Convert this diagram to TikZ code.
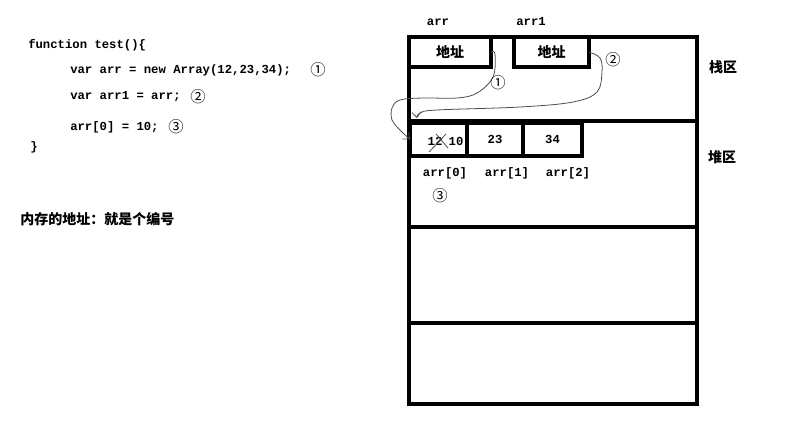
\documentclass[tikz,border=0pt]{standalone}
\usepackage{fontspec}
\setmainfont{Liberation Mono}
\newfontfamily\cjk{Noto Sans CJK SC}
\newcommand{\codefont}{\fontsize{9.2}{11}\selectfont\bfseries}
\newcommand{\hanfont}{\fontsize{10.5}{12}\selectfont\cjk\bfseries}
\usetikzlibrary{arrows.meta}
\tikzset{
  zone/.style={draw, line width=2.4pt, inner sep=0pt, outer sep=0pt,
    minimum width=216pt},
  slot/.style={draw, line width=2.4pt, inner sep=0pt, outer sep=0pt,
    minimum height=22.5pt},
  cell/.style={draw, line width=2.4pt, inner sep=0pt, outer sep=0pt,
    minimum height=24.75pt, font=\codefont},
  code/.style={anchor=west, inner sep=0pt, font=\codefont},
  han/.style={inner sep=0pt, font=\hanfont},
  circ/.style={inner sep=0pt, font=\fontsize{11.5}{12}\selectfont\cjk},
  hand/.style={draw=black!70, line width=0.6pt, -{Straight Barb[length=4pt,width=7pt]}}}

\begin{document}
\begin{tikzpicture}[x=0.75pt, y=-0.75pt]
  \useasboundingbox (0,0) rectangle (806,421);
  % the code
  \node[code] (l1) at (28,45) {function test()\{};
  \node[code] (l2) at (70,70) {var arr = new Array(12,23,34);};
  \node[circ] (n1) at (318,70) {①};
  \node[code] (l3) at (70,97) {var arr1 = arr;};
  \node[circ] (n2) at (198,97) {②};
  \node[code] (l4) at (70,127) {arr[0] = 10;};
  \node[circ] (n3) at (176,127) {③};
  \node[code] (l5) at (30,147) {\}};
  \node[han, anchor=west] (note) at (20,219) {内存的地址：就是个编号};
  % memory
  \node[zone, minimum height=63pt] (stack) at (553,79) {};
  \node[zone, minimum height=79.5pt] (heap) at (553,174) {};
  \node[zone, minimum height=72pt] (zone3) at (553,275) {};
  \node[zone, minimum height=60.75pt] (zone4) at (553,363.5) {};
  \node[han] (stacklbl) at (723,67) {栈区};
  \node[han] (heaplbl) at (722,157) {堆区};
  \node[slot, minimum width=61.5pt, font=\hanfont] (arrbox) at (450,52) {地址};
  \node[slot, minimum width=56.25pt, font=\hanfont] (arr1box) at (551.5,52) {地址};
  \node[code, anchor=center] (arrlbl) at (438,22) {arr};
  \node[code, anchor=center] (arr1lbl) at (531,22) {arr1};
  \node[cell, minimum width=42.75pt] (cell0) at (438.5,139.5) {};
  \node[cell, minimum width=42pt] (cell1) at (495,139.5) {23};
  \node[cell, minimum width=44.25pt] (cell2) at (552.5,139.5) {34};
  \node[code, anchor=center] (old) at (435,141) {12};
  \node[code, anchor=center] (new) at (456,141) {10};
  \draw[black!70, line width=0.6pt] (429,152) -- (446,134) (436,134) -- (448,148);
  \node[code, anchor=center] (idx0) at (445,173) {arr[0]};
  \node[code, anchor=center] (idx1) at (507,173) {arr[1]};
  \node[code, anchor=center] (idx2) at (568,173) {arr[2]};
  \node[circ] (n3b) at (440,196) {③};
  % the pointers
  \coordinate (tip2) at (417,118);
  \draw[hand] plot[smooth, tension=0.6] coordinates {(arrbox.east) (495,54) (493,77)
    (477,93) (457,98) (423,98) (400,100) (392,108) (392,120) (399,129) (cell0.west)};
  \node[circ] (c1) at (498,83) {①};
  \draw[hand] plot[smooth, tension=0.6] coordinates {(arr1box.east) (600,58) (602,72)
    (597,92) (573,102) (520,107) (437,110) (420,113) (tip2)};
  \node[circ] (c2) at (613,60) {②};
\end{tikzpicture}
\end{document}
